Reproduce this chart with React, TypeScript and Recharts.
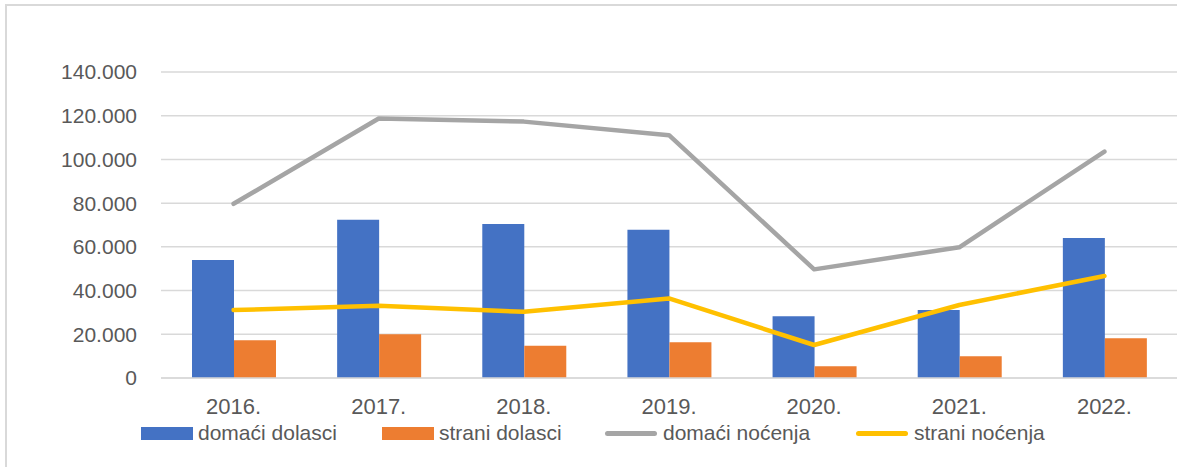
import React from "react";
import {
  Bar,
  CartesianGrid,
  ComposedChart,
  Legend,
  Line,
  XAxis,
  YAxis,
} from "recharts";

const godine = ["2016.", "2017.", "2018.", "2019.", "2020.", "2021.", "2022."];
const domaciDolasci = [54000, 72400, 70500, 67800, 28300, 31100, 64100];
const straniDolasci = [17300, 20000, 14700, 16400, 5400, 9900, 18200];
const domaciNocenja = [79700, 118700, 117300, 111100, 49700, 59800, 103600];
const straniNocenja = [31100, 33000, 30300, 36400, 15100, 33400, 46700];
const yTicks = [0, 20000, 40000, 60000, 80000, 100000, 120000, 140000];

const podaci = godine.map((g, i) => ({
  godina: g,
  domaciDolasci: domaciDolasci[i],
  straniDolasci: straniDolasci[i],
  domaciNocenja: domaciNocenja[i],
  straniNocenja: straniNocenja[i],
}));

const FONT = '"Liberation Sans", Arial, sans-serif';
const TXT = "#595959";
const GRID = "#d9d9d9";

const boje = {
  domaciDolasci: "#4472C4",
  straniDolasci: "#ED7D31",
  domaciNocenja: "#A5A5A5",
  straniNocenja: "#FFC000",
};

const formatBroj = (v: number) =>
  v === 0 ? "0" : v.toString().replace(/\B(?=(\d{3})+(?!\d))/g, ".");

// stavke legende: vrsta, boja, x pozicija oznake, x teksta
const stavkeLegende = [
  { ime: "domaći dolasci", boja: boje.domaciDolasci, tip: "bar", x: 141, tx: 198 },
  { ime: "strani dolasci", boja: boje.straniDolasci, tip: "bar", x: 382, tx: 439 },
  { ime: "domaći noćenja", boja: boje.domaciNocenja, tip: "line", x: 605, tx: 663 },
  { ime: "strani noćenja", boja: boje.straniNocenja, tip: "line", x: 856, tx: 914 },
];

function Legenda() {
  return (
    <div style={{ position: "relative", width: 1177, height: 26, fontFamily: FONT }}>
      {stavkeLegende.map((s) => (
        <React.Fragment key={s.ime}>
          <div
            style={{
              position: "absolute",
              left: s.x,
              top: s.tip === "bar" ? 7 : 10.5,
              width: 52,
              height: s.tip === "bar" ? 13 : 5,
              borderRadius: s.tip === "bar" ? 0 : 3,
              background: s.boja,
            }}
          />
          <span
            style={{
              position: "absolute",
              left: s.tx,
              top: 0,
              lineHeight: "26px",
              fontSize: 21,
              color: TXT,
              whiteSpace: "nowrap",
            }}
          >
            {s.ime}
          </span>
        </React.Fragment>
      ))}
    </div>
  );
}

export default function App() {
  return (
    <div
      style={{
        position: "absolute",
        top: 0,
        left: 0,
        width: 1177,
        height: 467,
        overflow: "hidden",
        background: "#fff",
      }}
    >
      <div
        style={{
          position: "absolute",
          left: 5,
          top: 4,
          width: 1300,
          height: 600,
          border: `2px solid ${GRID}`,
        }}
      />
      <div style={{ position: "absolute", left: 0, top: 0 }}>
        <ComposedChart
          width={1177}
          height={467}
          data={podaci}
          margin={{ top: 72, right: 0, bottom: 59, left: 61 }}
          barGap={0}
        >
          <CartesianGrid stroke={GRID} strokeWidth={1.5} vertical={false} />
          <XAxis
            dataKey="godina"
            tickLine={false}
            axisLine={{ stroke: GRID, strokeWidth: 1.5 }}
            tickSize={0}
            tickMargin={20}
            height={30}
            tick={{ fill: TXT, fontSize: 22, fontFamily: FONT }}
          />
          <YAxis
            domain={[0, 140000]}
            ticks={yTicks}
            tickFormatter={(v) => formatBroj(Number(v))}
            axisLine={false}
            tickLine={false}
            tickSize={0}
            tickMargin={24}
            width={100}
            tick={{ fill: TXT, fontSize: 21, fontFamily: FONT }}
          />
          <Legend
            layout="horizontal"
            verticalAlign="middle"
            align="center"
            wrapperStyle={{ top: 420, left: 0, width: 1177 }}
            content={() => <Legenda />}
          />
          <Bar
            dataKey="domaciDolasci"
            name="domaći dolasci"
            fill={boje.domaciDolasci}
            barSize={42}
            isAnimationActive={false}
          />
          <Bar
            dataKey="straniDolasci"
            name="strani dolasci"
            fill={boje.straniDolasci}
            barSize={42}
            isAnimationActive={false}
          />
          <Line
            dataKey="domaciNocenja"
            name="domaći noćenja"
            stroke={boje.domaciNocenja}
            strokeWidth={4.5}
            strokeLinecap="round"
            strokeLinejoin="round"
            dot={false}
            activeDot={false}
            type="linear"
            isAnimationActive={false}
          />
          <Line
            dataKey="straniNocenja"
            name="strani noćenja"
            stroke={boje.straniNocenja}
            strokeWidth={4.5}
            strokeLinecap="round"
            strokeLinejoin="round"
            dot={false}
            activeDot={false}
            type="linear"
            isAnimationActive={false}
          />
        </ComposedChart>
      </div>
    </div>
  );
}
